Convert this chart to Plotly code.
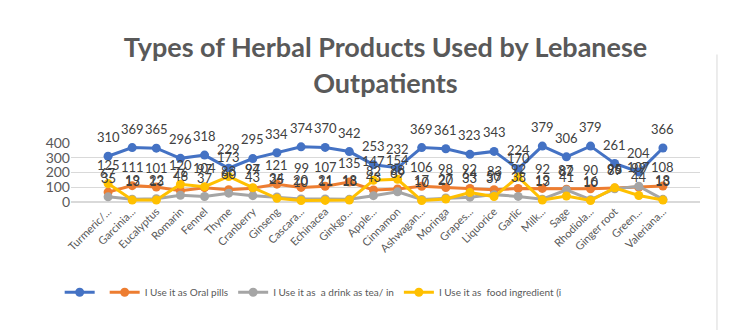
import plotly.graph_objects as go

categories = ["Turmeric/...", "Garcinia...", "Eucalyptus", "Romarin", "Fennel", "Thyme",
              "Cranberry", "Ginseng", "Cascara...", "Echinacea", "Ginkgo...", "Apple...",
              "Cinnamon", "Ashwagan...", "Moringa", "Grapes...", "Liquorice", "Garlic",
              "Milk...", "Sage", "Rhodiola...", "Ginger root", "Green...", "Valeriana..."]

series_names = ["", "I Use it as Oral pills", "I Use it as  a drink as tea/ in",
                "I Use it as  food ingredient (i"]

blue_vals = [310, 369, 365, 296, 318, 229, 295, 334, 374, 370, 342, 253, 232, 369, 361,
             323, 343, 224, 379, 306, 379, 261, 204, 366]
oral_pills = [67, 111, 101, 76, 97, 83, 94, 121, 99, 107, 135, 82, 88, 106, 98, 92, 83,
              92, 92, 87, 90, 95, 99, 108]
drink_tea = [35, 19, 22, 46, 37, 60, 43, 34, 20, 21, 18, 43, 69, 17, 27, 33, 50, 38, 19,
             82, 16, 89, 107, 18]
food_ingredient = [125, 13, 13, 120, 104, 173, 97, 25, 10, 11, 13, 147, 154, 10, 20, 64,
                   37, 170, 13, 41, 10, 96, 44, 13]

y_ticks = [0, 100, 200, 300, 400]

colors = ["#4472C4", "#ED7D31", "#A5A5A5", "#FFC000"]
all_series = [blue_vals, oral_pills, drink_tea, food_ingredient]

FONT = "Lato, 'Open Sans', sans-serif"

fig = go.Figure()
for name, vals, col in zip(series_names, all_series, colors):
    fig.add_trace(go.Scatter(
        x=categories, y=vals, name=name,
        mode="lines+markers",
        line=dict(color=col, width=3),
        marker=dict(color=col, size=9),
        cliponaxis=False,
    ))

# data labels above each point
for vals in all_series:
    for cat, v in zip(categories, vals):
        fig.add_annotation(x=cat, y=v, xref="x", yref="y", text=str(v),
                           showarrow=False, yshift=19, yanchor="middle",
                           font=dict(family=FONT, size=13, color="#404040"))

# chart-area border line on the right
fig.add_shape(type="line", xref="paper", yref="paper", x0=1.027, x1=1.027,
              y0=-2.3, y1=2.5, line=dict(color="#D9D9D9", width=1))

fig.update_layout(
    width=752, height=330,
    margin=dict(l=71, r=52, t=143, b=128),
    paper_bgcolor="white", plot_bgcolor="white",
    title=dict(text="Types of Herbal Products Used by Lebanese<br>Outpatients",
               x=0.5, xref="paper", xanchor="center", y=0.826, yref="container",
               yanchor="middle",
               font=dict(family=FONT, size=27, color="#595959", weight="bold")),
    showlegend=True,
    legend=dict(orientation="h", x=-0.018, xanchor="left", y=-1.53, yanchor="middle",
                font=dict(family=FONT, size=10, color="#595959"),
                itemwidth=30, traceorder="normal"),
    xaxis=dict(type="category", tickangle=-45, showgrid=False, showline=False,
               ticks="", tickfont=dict(family=FONT, size=11, color="#595959")),
    yaxis=dict(range=[0, 400], tickvals=y_ticks, showgrid=True, gridcolor="#D9D9D9",
               gridwidth=1, zeroline=True, zerolinecolor="#D9D9D9", showline=False,
               ticks="", tickfont=dict(family=FONT, size=14, color="#595959")),
)

fig.write_html("out.html")
